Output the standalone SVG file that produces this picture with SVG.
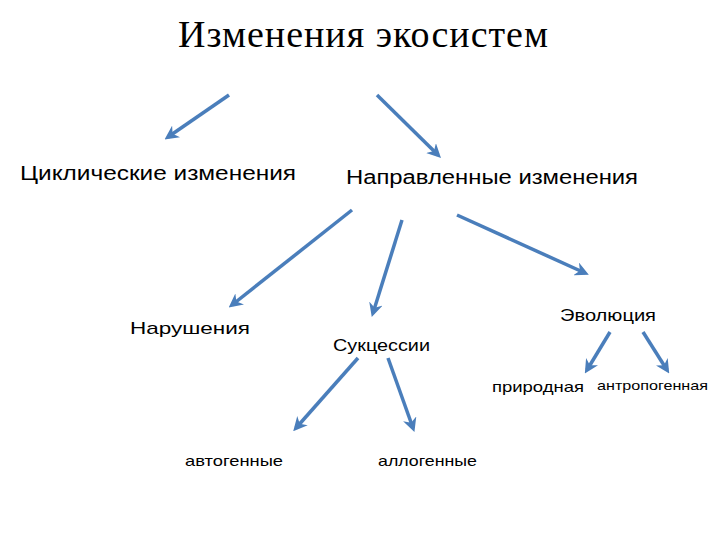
<svg xmlns="http://www.w3.org/2000/svg" width="720" height="540" viewBox="0 0 720 540">
<style>
.s{font-family:"Liberation Sans",Arial,sans-serif;fill:#000}
.c line{stroke:#4a7ebb;stroke-width:3.5;marker-end:url(#a)}
</style>
<defs><marker id="a" viewBox="0 0 10 10" refX="7" refY="5" markerWidth="4" markerHeight="4" orient="auto" markerUnits="strokeWidth"><path d="M0,0 L10,5 L0,10 L3,5 Z" fill="#4a7ebb"/></marker></defs>
<rect width="720" height="540" fill="#fff"/>
<g id="title"><text x="178" y="47" textLength="370" font-family="Liberation Serif,serif" font-size="38">Изменения экосистем</text></g>
<g id="cyc"><text class="s" x="20" y="180" textLength="276" lengthAdjust="spacingAndGlyphs" font-size="20">Циклические изменения</text></g>
<g id="dir"><text class="s" x="346" y="184" textLength="292" lengthAdjust="spacingAndGlyphs" font-size="20">Направленные изменения</text></g>
<g id="nar"><text class="s" x="130" y="334" textLength="120" lengthAdjust="spacingAndGlyphs" font-size="17">Нарушения</text></g>
<g id="suk"><text class="s" x="333" y="351" textLength="97" lengthAdjust="spacingAndGlyphs" font-size="17">Сукцессии</text></g>
<g id="evo"><text class="s" x="560" y="321" textLength="96" lengthAdjust="spacingAndGlyphs" font-size="17">Эволюция</text></g>
<g id="pri"><text class="s" x="492" y="392" textLength="92" lengthAdjust="spacingAndGlyphs" font-size="15">природная</text></g>
<g id="ant"><text class="s" x="597" y="390" textLength="111" lengthAdjust="spacingAndGlyphs" font-size="13">антропогенная</text></g>
<g id="avt"><text class="s" x="185" y="466" textLength="98" lengthAdjust="spacingAndGlyphs" font-size="15">автогенные</text></g>
<g id="all"><text class="s" x="378" y="466" textLength="99" lengthAdjust="spacingAndGlyphs" font-size="15">аллогенные</text></g>
<g class="c" id="connectors">
<line x1="229" y1="95" x2="168" y2="137"/>
<line x1="377" y1="95" x2="438" y2="155"/>
<line x1="352" y1="210" x2="232" y2="305"/>
<line x1="402" y1="220" x2="373" y2="313"/>
<line x1="457" y1="215" x2="585" y2="273"/>
<line x1="610" y1="332" x2="587" y2="370"/>
<line x1="643" y1="332" x2="667" y2="370"/>
<line x1="358" y1="358" x2="296" y2="428"/>
<line x1="388" y1="358" x2="413" y2="428"/>
</g>
</svg>
